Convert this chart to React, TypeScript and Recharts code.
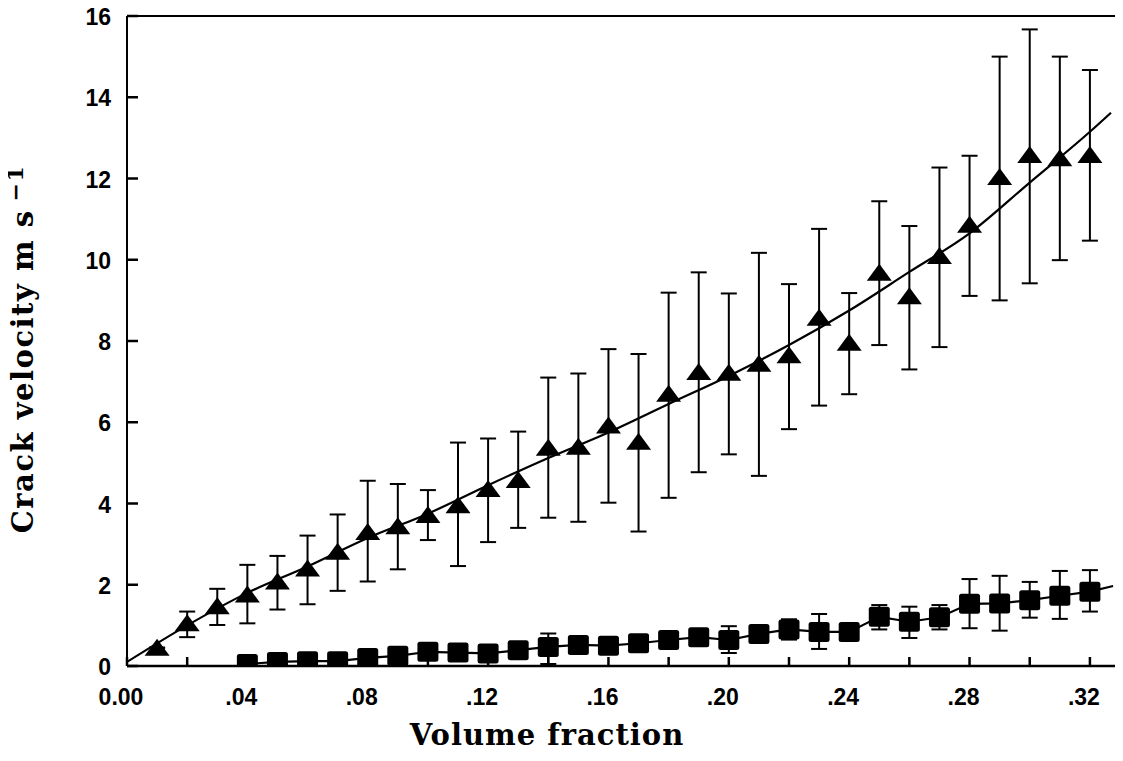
import React from 'react';
import { ComposedChart, Scatter, Line, XAxis, YAxis, ErrorBar, ReferenceLine } from 'recharts';

// Triangles (upper series)
const triX = [0.01, 0.02, 0.03, 0.04, 0.05, 0.06, 0.07, 0.08, 0.09, 0.10, 0.11, 0.12, 0.13, 0.14, 0.15, 0.16, 0.17, 0.18, 0.19, 0.20, 0.21, 0.22, 0.23, 0.24, 0.25, 0.26, 0.27, 0.28, 0.29, 0.30, 0.31, 0.32];
const triY = [0.45, 1.05, 1.47, 1.76, 2.08, 2.40, 2.81, 3.30, 3.44, 3.72, 3.96, 4.36, 4.58, 5.37, 5.40, 5.92, 5.52, 6.70, 7.24, 7.22, 7.44, 7.65, 8.57, 7.96, 9.68, 9.10, 10.09, 10.86, 12.04, 12.58, 12.50, 12.58];
const triLow = [0.45, 0.71, 1.01, 1.05, 1.39, 1.52, 1.85, 2.08, 2.38, 3.10, 2.46, 3.05, 3.40, 3.65, 3.55, 4.02, 3.31, 4.14, 4.77, 5.21, 4.68, 5.83, 6.41, 6.69, 7.90, 7.30, 7.85, 9.11, 9.00, 9.42, 9.99, 10.47];
const triHigh = [0.45, 1.34, 1.90, 2.49, 2.71, 3.21, 3.73, 4.56, 4.48, 4.33, 5.50, 5.60, 5.77, 7.10, 7.20, 7.80, 7.68, 9.19, 9.69, 9.17, 10.17, 9.40, 10.76, 9.18, 11.44, 10.83, 12.27, 12.56, 15.00, 15.67, 15.00, 14.67];

// Fitted curve through triangles
const triFitX = [0, 0.02, 0.04, 0.06, 0.08, 0.10, 0.12, 0.14, 0.16, 0.18, 0.20, 0.22, 0.24, 0.26, 0.28, 0.30, 0.32, 0.327];
const triFitY = [0.1, 1.0, 1.8, 2.45, 3.15, 3.75, 4.45, 5.12, 5.75, 6.45, 7.14, 7.9, 8.75, 9.7, 10.65, 11.9, 13.15, 13.62];

// Squares (lower series)
const sqX = [0.04, 0.05, 0.06, 0.07, 0.08, 0.09, 0.10, 0.11, 0.12, 0.13, 0.14, 0.15, 0.16, 0.17, 0.18, 0.19, 0.20, 0.21, 0.22, 0.23, 0.24, 0.25, 0.26, 0.27, 0.28, 0.29, 0.30, 0.31, 0.32];
const sqY = [0.05, 0.10, 0.12, 0.12, 0.20, 0.25, 0.35, 0.33, 0.31, 0.39, 0.47, 0.52, 0.50, 0.56, 0.64, 0.71, 0.64, 0.79, 0.90, 0.84, 0.84, 1.21, 1.09, 1.20, 1.53, 1.54, 1.62, 1.73, 1.83];
const sqLow = [0.05, 0.10, 0.12, 0.12, 0.20, 0.25, 0.35, 0.33, 0.31, 0.39, 0.05, 0.52, 0.50, 0.56, 0.64, 0.71, 0.32, 0.79, 0.65, 0.42, 0.84, 0.90, 0.69, 0.90, 0.93, 0.87, 1.19, 1.16, 1.34];
const sqHigh = [0.05, 0.10, 0.12, 0.12, 0.20, 0.25, 0.35, 0.33, 0.31, 0.39, 0.80, 0.52, 0.50, 0.56, 0.64, 0.71, 0.98, 0.79, 1.15, 1.28, 0.84, 1.50, 1.46, 1.50, 2.14, 2.22, 2.07, 2.34, 2.36];
const sqLineEndX = 0.3277;
const sqLineEndY = 1.97;

// Axes
const xMajorTicks = [0, 0.04, 0.08, 0.12, 0.16, 0.20, 0.24, 0.28, 0.32];
const xMajorLabels = ['0.00', '.04', '.08', '.12', '.16', '.20', '.24', '.28', '.32'];
const xMinorTicks = [0.02, 0.06, 0.10, 0.14, 0.18, 0.22, 0.26, 0.30];
const yTicks = [0, 2, 4, 6, 8, 10, 12, 14, 16];
const xTitle = 'Volume fraction';
const yTitle = 'Crack velocity m s';
const yTitleSup = '\u22121';

const triData = triX.map((x, i) => ({ x, y: triY[i], err: [triY[i] - triLow[i], triHigh[i] - triY[i]] }));
const sqData = sqX.map((x, i) => ({ x, y: sqY[i], err: [sqY[i] - sqLow[i], sqHigh[i] - sqY[i]] }));
const triFit = triFitX.map((x, i) => ({ x, y: triFitY[i] }));
const sqLine = [...sqX.map((x, i) => ({ x, y: sqY[i] })), { x: sqLineEndX, y: sqLineEndY }];
const allXTicks = [...xMajorTicks, ...xMinorTicks].sort((a, b) => a - b);

const tickFont = '"Liberation Sans", Arial, sans-serif';
const titleFont = '"DejaVu Serif", serif';

const Triangle = (props: any) => {
  const { cx, cy } = props;
  if (cx == null || cy == null) return <g />;
  return <polygon points={`${cx},${cy - 9} ${cx - 12.5},${cy + 8} ${cx + 12.5},${cy + 8}`} fill="#000" />;
};

const Square = (props: any) => {
  const { cx, cy } = props;
  if (cx == null || cy == null) return <g />;
  return <rect x={cx - 10.5} y={cy - 10} width={21} height={20} rx={2.5} fill="#000" />;
};

const XTick = (props: any) => {
  const { x, y, payload } = props;
  const i = xMajorTicks.findIndex((t) => Math.abs(t - payload.value) < 1e-6);
  return (
    <g>
      <path d={`M${x},${y}L${x},${y - 9}`} stroke="#000" strokeWidth={2.5} fill="none" />
      {i >= 0 && (
        <text x={x - 6} y={y + 39} textAnchor="middle" fontFamily={tickFont} fontWeight="bold" fontSize={23} fill="#000">
          {xMajorLabels[i]}
        </text>
      )}
    </g>
  );
};

const YTick = (props: any) => {
  const { x, y, payload } = props;
  return (
    <g>
      <path d={`M${x},${y}L${x + 11},${y}`} stroke="#000" strokeWidth={2.5} fill="none" />
      <text x={x - 16} y={y + 9} textAnchor="end" fontFamily={tickFont} fontWeight="bold" fontSize={23} fill="#000">
        {payload.value}
      </text>
    </g>
  );
};

const XTitle = (props: any) => {
  const vb = props.viewBox || { x: 127, y: 666 };
  return (
    <text x={vb.x + 420} y={vb.y + 79} textAnchor="middle" fontFamily={titleFont} fontWeight="bold" fontSize={29} letterSpacing={1} fill="#000">
      {xTitle}
    </text>
  );
};

const YTitle = (props: any) => {
  const vb = props.viewBox || { x: 67, y: 16 };
  const cx = vb.x - 34;
  const cy = vb.y + 333;
  return (
    <text x={cx} y={cy} transform={`rotate(-90, ${cx}, ${cy})`} textAnchor="middle" fontFamily={titleFont} fontWeight="bold" fontSize={29} letterSpacing={1.5} fill="#000">
      <tspan>{yTitle}</tspan>
      <tspan dx={8} dy={-10} fontSize={22}>{yTitleSup}</tspan>
    </text>
  );
};

export default function App() {
  return (
    <div style={{ marginLeft: -8, marginTop: -8 }}>
      <ComposedChart width={1123} height={753} margin={{ top: 16, right: 3, left: 67, bottom: 47 }}>
        <XAxis
          dataKey="x"
          type="number"
          domain={[0, 0.33]}
          ticks={allXTicks}
          interval={0}
          tickSize={0}
          tickMargin={0}
          tickLine={false}
          tick={<XTick />}
          height={40}
          axisLine={{ stroke: '#000', strokeWidth: 2.5 }}
          allowDataOverflow
          label={{ content: (p: any) => <XTitle {...p} /> }}
        />
        <YAxis
          dataKey="y"
          type="number"
          domain={[0, 16]}
          ticks={yTicks}
          interval={0}
          tickSize={0}
          tickMargin={0}
          tickLine={false}
          tick={<YTick />}
          width={60}
          axisLine={{ stroke: '#000', strokeWidth: 2 }}
          allowDataOverflow
          label={{ content: (p: any) => <YTitle {...p} /> }}
        />
        <ReferenceLine y={16} stroke="#000" strokeWidth={2} />
        <ReferenceLine x={0.33} stroke="#000" strokeWidth={2} />
        <Line data={triFit} dataKey="y" type="monotone" stroke="#000" strokeWidth={2.2} dot={false} isAnimationActive={false} />
        <Line data={sqLine} dataKey="y" type="linear" stroke="#000" strokeWidth={2.2} dot={false} isAnimationActive={false} />
        <Scatter data={triData} dataKey="y" shape={<Triangle />} isAnimationActive={false}>
          <ErrorBar dataKey="err" direction="y" width={8} strokeWidth={2} stroke="#000" />
        </Scatter>
        <Scatter data={sqData} dataKey="y" shape={<Square />} isAnimationActive={false}>
          <ErrorBar dataKey="err" direction="y" width={8} strokeWidth={2} stroke="#000" />
        </Scatter>
      </ComposedChart>
    </div>
  );
}
